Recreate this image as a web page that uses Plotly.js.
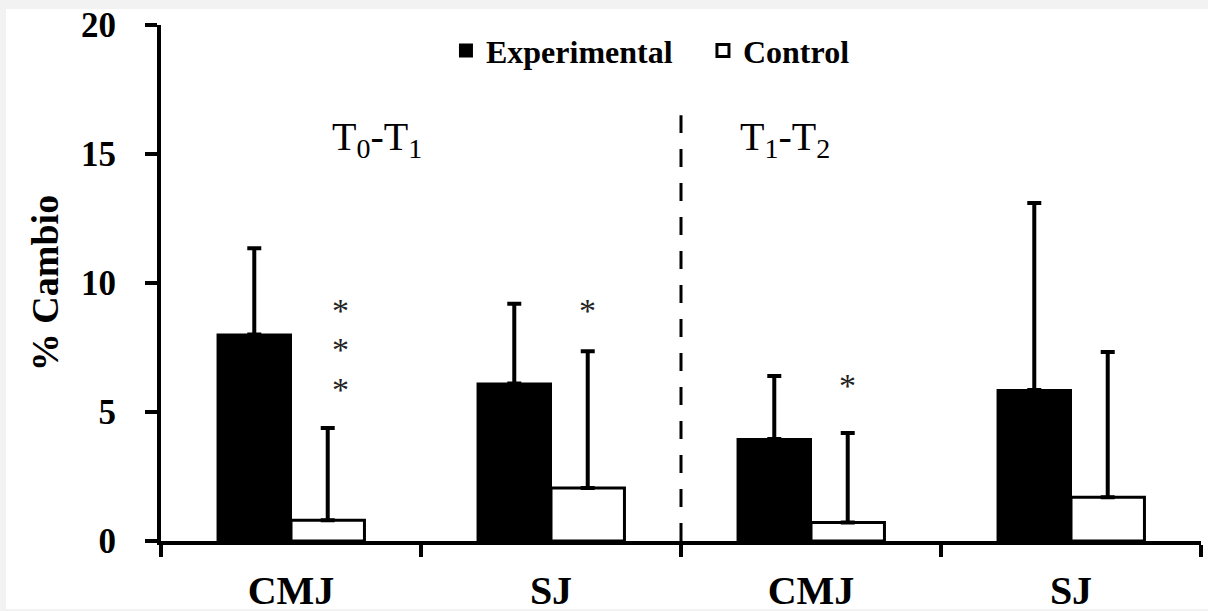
<!DOCTYPE html>
<html>
<head>
<meta charset="utf-8">
<script src="https://cdn.plot.ly/plotly-3.0.1.min.js"></script>
<style>
  html, body { margin: 0; padding: 0; background: #f2f2f2; width: 1208px; height: 611px; overflow: hidden; }
  #chart { position: absolute; left: 6px; top: 9px; width: 1202px; height: 600px; background: #fff; }
</style>
</head>
<body>
<div id="chart"></div>
<script>
// ---- data ----
const categories = ["CMJ", "SJ", "CMJ", "SJ"];
const experimentalValues = [8.0, 6.1, 3.95, 5.85];
const experimentalErrors = [3.35, 3.1, 2.45, 7.25];
const controlValues = [0.8, 2.05, 0.72, 1.7];
const controlErrors = [3.58, 5.3, 3.47, 5.63];
const periodLabels = ["T<sub>0</sub>-T<sub>1</sub>", "T<sub>1</sub>-T<sub>2</sub>"];
const periodX = [0.33, 1.9];
const periodY = [15.6, 15.6];
const starX = [0.19, 0.19, 0.19, 1.14, 2.14];
const starY = [9.2, 7.7, 6.15, 9.2, 6.3];

const xs = categories.map((c, i) => i);
const boundaries = categories.map((c, i) => i - 0.5).concat([categories.length - 0.5]);

const FONT = "Liberation Serif, Times New Roman, serif";

const traces = [
  {
    type: "bar", name: "Experimental", x: xs, y: experimentalValues,
    marker: { color: "#000", line: { color: "#000", width: 2 } },
    error_y: { type: "data", array: experimentalErrors, symmetric: false, arrayminus: experimentalErrors.map(() => 0),
               color: "#000", thickness: 4, width: 7 }
  },
  {
    type: "bar", name: "Control", x: xs, y: controlValues,
    marker: { color: "#fff", line: { color: "#000", width: 3 } },
    error_y: { type: "data", array: controlErrors, symmetric: false, arrayminus: controlErrors.map(() => 0),
               color: "#000", thickness: 4, width: 7 }
  }
];

const annotations = [];
periodLabels.forEach((t, i) => annotations.push({
  x: periodX[i], y: periodY[i], xref: "x", yref: "y", text: t, showarrow: false,
  font: { family: FONT, size: 40, color: "#000" }
}));
starX.forEach((x, i) => annotations.push({
  x: x, y: starY[i], xref: "x", yref: "y", text: "*", showarrow: false, yanchor: "middle", yshift: -7,
  font: { family: FONT, size: 34, color: "#222" }
}));

const layout = {
  width: 1202, height: 600,
  margin: { l: 155, r: 7, t: 16, b: 68 },
  paper_bgcolor: "#fff", plot_bgcolor: "#fff",
  barmode: "group", bargap: 0.435, bargroupgap: 0,
  showlegend: true,
  legend: {
    orientation: "h", x: 0.274, xanchor: "left", y: 0.95, yanchor: "middle",
    font: { family: FONT, size: 32, color: "#000", weight: "bold" },
    entrywidth: 212, entrywidthmode: "pixels", bgcolor: "rgba(0,0,0,0)"
  },
  xaxis: {
    range: [-0.5, 3.5], tickmode: "array", tickvals: xs, ticktext: categories,
    ticks: "outside", ticklen: 0, tickcolor: "rgba(0,0,0,0)", ticklabelstandoff: 11,
    ticklabeloverflow: "allow",
    minor: { tickmode: "array", tickvals: boundaries, ticks: "outside", ticklen: 12, tickwidth: 4, tickcolor: "#000" },
    showline: true, linecolor: "#000", linewidth: 4, showgrid: false, zeroline: false,
    tickfont: { family: FONT, size: 40, color: "#000", weight: "bold" }
  },
  yaxis: {
    range: [0, 20], tickmode: "array", tickvals: [0, 5, 10, 15, 20],
    ticks: "outside", ticklen: 12, tickwidth: 4, tickcolor: "#000", ticklabelstandoff: 22,
    ticklabeloverflow: "allow",
    showline: true, linecolor: "#000", linewidth: 4, showgrid: false, zeroline: false,
    tickfont: { family: FONT, size: 35, color: "#000", weight: "bold" },
    title: { text: "% Cambio", standoff: 12, font: { family: FONT, size: 38, color: "#000", weight: "bold" } }
  },
  shapes: [{
    type: "line", xref: "x", yref: "y", x0: 1.5, x1: 1.5, y0: 0, y1: 16.5,
    line: { color: "#000", width: 3, dash: "18px,16px" }
  }],
  annotations: annotations
};

Plotly.newPlot("chart", traces, layout, { displayModeBar: false, staticPlot: true });
</script>
</body>
</html>
